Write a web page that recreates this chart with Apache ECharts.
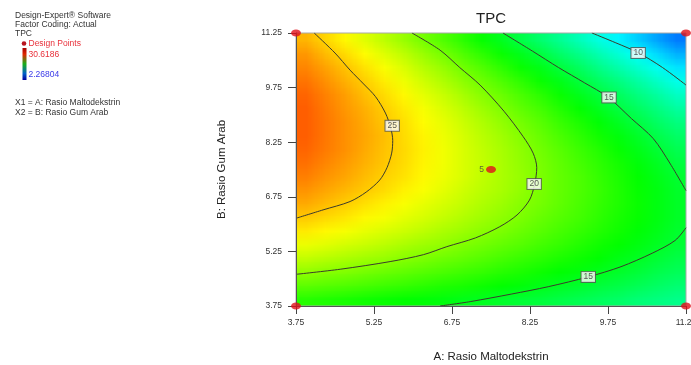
<!DOCTYPE html>
<html>
<head>
<meta charset="utf-8">
<title>TPC</title>
<script src="https://cdn.jsdelivr.net/npm/echarts@6/dist/echarts.min.js"></script>
<style>
  html, body { margin: 0; padding: 0; background: #fff; }
  #wrap { position: relative; width: 691px; height: 365px; overflow: hidden; }
  /* colour map is drawn one pixel per cell, then scaled up by the browser (smooth shading) */
  #map { position: absolute; left: 296px; top: 33px; width: 20px; height: 20px;
         transform: scale(19.5, 13.65); transform-origin: 0 0; z-index: 1; }
  #chart { position: absolute; left: 0; top: 0; width: 691px; height: 365px; z-index: 2; }
</style>
</head>
<body>
<div id="wrap">
  <div id="map"></div>
  <div id="chart"></div>
</div>
<script>
// A: Rasio Maltodekstrin (x)  B: Rasio Gum Arab (y)
const axisTicks = [3.75, 5.25, 6.75, 8.25, 9.75, 11.25];
// centres of the colour cells
const aCells = [3.94, 4.31, 4.69, 5.06, 5.44, 5.81, 6.19, 6.56, 6.94, 7.31, 7.69, 8.06, 8.44, 8.81, 9.19, 9.56, 9.94, 10.31, 10.69, 11.06];
const bCells = [3.94, 4.31, 4.69, 5.06, 5.44, 5.81, 6.19, 6.56, 6.94, 7.31, 7.69, 8.06, 8.44, 8.81, 9.19, 9.56, 9.94, 10.31, 10.69, 11.06];
// TPC, one array per A column, B from bottom to top
const tpcCols = [
  [17.5, 19.0, 20.5, 21.8, 23.0, 24.1, 25.0, 25.9, 26.5, 27.1, 27.5, 27.8, 28.0, 28.0, 28.0, 27.8, 27.4, 26.9, 26.4, 25.6],
  [17.3, 18.8, 20.2, 21.5, 22.7, 23.7, 24.6, 25.4, 26.0, 26.5, 26.9, 27.2, 27.3, 27.3, 27.2, 27.0, 26.6, 26.1, 25.4, 24.7],
  [17.1, 18.6, 20.0, 21.2, 22.3, 23.3, 24.2, 24.9, 25.5, 26.0, 26.3, 26.6, 26.6, 26.6, 26.4, 26.2, 25.7, 25.2, 24.5, 23.7],
  [16.9, 18.4, 19.7, 20.9, 22.0, 22.9, 23.7, 24.4, 25.0, 25.4, 25.7, 25.9, 26.0, 25.9, 25.7, 25.3, 24.9, 24.3, 23.6, 22.7],
  [16.7, 18.1, 19.4, 20.6, 21.6, 22.5, 23.3, 23.9, 24.5, 24.8, 25.1, 25.2, 25.3, 25.1, 24.9, 24.5, 24.0, 23.4, 22.6, 21.7],
  [16.5, 17.9, 19.1, 20.2, 21.2, 22.1, 22.8, 23.4, 23.9, 24.3, 24.5, 24.6, 24.5, 24.4, 24.1, 23.7, 23.1, 22.5, 21.7, 20.7],
  [16.3, 17.6, 18.8, 19.9, 20.8, 21.7, 22.4, 22.9, 23.4, 23.7, 23.8, 23.9, 23.8, 23.6, 23.3, 22.8, 22.2, 21.5, 20.7, 19.7],
  [16.1, 17.3, 18.5, 19.5, 20.5, 21.2, 21.9, 22.4, 22.8, 23.1, 23.2, 23.2, 23.1, 22.9, 22.5, 22.0, 21.3, 20.6, 19.7, 18.7],
  [15.8, 17.1, 18.2, 19.2, 20.0, 20.8, 21.4, 21.9, 22.2, 22.5, 22.5, 22.5, 22.4, 22.1, 21.7, 21.1, 20.4, 19.6, 18.7, 17.7],
  [15.6, 16.8, 17.9, 18.8, 19.6, 20.3, 20.9, 21.3, 21.6, 21.8, 21.9, 21.8, 21.6, 21.3, 20.8, 20.2, 19.5, 18.7, 17.7, 16.6],
  [15.3, 16.5, 17.5, 18.4, 19.2, 19.9, 20.4, 20.8, 21.1, 21.2, 21.2, 21.1, 20.9, 20.5, 20.0, 19.4, 18.6, 17.7, 16.7, 15.6],
  [15.0, 16.2, 17.2, 18.0, 18.8, 19.4, 19.9, 20.2, 20.5, 20.6, 20.5, 20.4, 20.1, 19.7, 19.1, 18.5, 17.7, 16.7, 15.7, 14.5],
  [14.8, 15.8, 16.8, 17.6, 18.3, 18.9, 19.3, 19.7, 19.8, 19.9, 19.8, 19.6, 19.3, 18.9, 18.3, 17.6, 16.7, 15.8, 14.7, 13.4],
  [14.5, 15.5, 16.4, 17.2, 17.9, 18.4, 18.8, 19.1, 19.2, 19.2, 19.1, 18.9, 18.5, 18.0, 17.4, 16.7, 15.8, 14.8, 13.6, 12.4],
  [14.2, 15.2, 16.1, 16.8, 17.4, 17.9, 18.3, 18.5, 18.6, 18.6, 18.4, 18.1, 17.7, 17.2, 16.5, 15.7, 14.8, 13.8, 12.6, 11.3],
  [13.9, 14.8, 15.7, 16.4, 16.9, 17.4, 17.7, 17.9, 18.0, 17.9, 17.7, 17.4, 16.9, 16.3, 15.6, 14.8, 13.8, 12.7, 11.5, 10.2],
  [13.6, 14.5, 15.3, 15.9, 16.5, 16.9, 17.1, 17.3, 17.3, 17.2, 17.0, 16.6, 16.1, 15.5, 14.7, 13.9, 12.9, 11.7, 10.5, 9.1],
  [13.2, 14.1, 14.9, 15.5, 16.0, 16.3, 16.6, 16.7, 16.6, 16.5, 16.2, 15.8, 15.3, 14.6, 13.8, 12.9, 11.9, 10.7, 9.4, 8.0],
  [12.9, 13.7, 14.4, 15.0, 15.5, 15.8, 16.0, 16.0, 16.0, 15.8, 15.5, 15.0, 14.4, 13.7, 12.9, 12.0, 10.9, 9.7, 8.3, 6.8],
  [12.6, 13.3, 14.0, 14.5, 15.0, 15.2, 15.4, 15.4, 15.3, 15.1, 14.7, 14.2, 13.6, 12.9, 12.0, 11.0, 9.9, 8.6, 7.2, 5.7]
];
const tpcMin = 2.26804;
const tpcMax = 30.6186;

// contour lines [A, B]
const contour25 = [[4.10, 11.25], [4.50, 10.70], [4.79, 10.23], [5.05, 9.85], [5.28, 9.50], [5.47, 9.05], [5.57, 8.65], [5.61, 8.30], [5.59, 7.95], [5.50, 7.55], [5.36, 7.21], [5.10, 6.88], [4.79, 6.62], [4.27, 6.39], [3.75, 6.16]];
const contour20 = [[5.98, 11.25], [6.52, 10.78], [6.90, 10.30], [7.29, 9.82], [7.75, 9.10], [8.12, 8.40], [8.31, 7.95], [8.38, 7.55], [8.34, 7.10], [8.24, 6.66], [8.00, 6.25], [7.67, 5.93], [7.20, 5.62], [6.65, 5.38], [6.20, 5.16], [5.56, 4.97], [4.60, 4.76], [3.75, 4.62]];
const contour15Top = [[7.73, 11.25], [8.30, 10.75], [8.80, 10.30], [9.30, 9.88], [9.75, 9.49], [10.20, 8.90], [10.62, 8.35], [10.95, 7.65], [11.25, 6.92]];
const contour15Bottom = [[6.52, 3.75], [7.10, 3.87], [7.90, 4.08], [8.60, 4.28], [9.37, 4.55], [10.00, 4.83], [10.60, 5.20], [11.04, 5.55], [11.25, 5.90]];
const contour10 = [[9.44, 11.25], [9.90, 10.98], [10.33, 10.71], [10.80, 10.30], [11.25, 9.82]];
const contourLabels = [[5.60, 8.70, '25'], [8.33, 7.10, '20'], [9.77, 9.48, '15'], [10.33, 10.70, '10'], [9.37, 4.55, '15']];

const designPoints = [[3.75, 3.75], [3.75, 11.25], [11.25, 3.75], [11.25, 11.25], [7.5, 7.5]];
const centerRuns = '5';

const FONT = '"Liberation Sans", Arial, sans-serif';

let heatData = [];
for (let i = 0; i < tpcCols.length; i++) {
  for (let j = 0; j < tpcCols[i].length; j++) {
    heatData.push([i, j, tpcCols[i][j]]);
  }
}

// colour map
var mapChart = echarts.init(document.getElementById('map'));
mapChart.setOption({
  animation: false,
  grid: { left: 0, right: 0, top: 0, bottom: 0, outerBoundsMode: 'none' },
  xAxis: { type: 'category', data: aCells, show: false },
  yAxis: { type: 'category', data: bCells, show: false },
  visualMap: {
    show: false,
    type: 'continuous',
    dimension: 2,
    min: tpcMin,
    max: tpcMax,
    inRange: { color: ['#0000ff', '#00ffff', '#00ff00', '#ffff00', '#ff0000'] }
  },
  series: [{
    type: 'custom',
    data: heatData,
    encode: { x: 0, y: 1 },
    silent: true,
    renderItem: function (params, api) {
      var c = api.coord([api.value(0), api.value(1)]);
      var s = api.size([1, 1]);
      return {
        type: 'rect',
        shape: { x: c[0] - s[0] / 2, y: c[1] - s[1] / 2, width: s[0], height: s[1] },
        style: { fill: api.visual('color') }
      };
    }
  }]
});

function contourSeries(data) {
  return {
    type: 'line',
    data: data,
    showSymbol: false,
    smooth: 0.3,
    silent: true,
    z: 4,
    lineStyle: { color: '#3b3b2c', width: 1 }
  };
}

function panelText(text, x, y, color) {
  return {
    type: 'text',
    style: { text: text, x: x, y: y, fill: color || '#333', font: '8.5px ' + FONT, textVerticalAlign: 'top' }
  };
}

var myChart = echarts.init(document.getElementById('chart'));
myChart.setOption({
  animation: false,
  backgroundColor: 'transparent',
  grid: {
    left: 296, top: 33, width: 390, height: 273, outerBoundsMode: 'none',
    show: true, borderColor: '#a8a8a8', borderWidth: 1, backgroundColor: 'transparent'
  },
  xAxis: {
    type: 'value', min: axisTicks[0], max: axisTicks[axisTicks.length - 1], interval: 1.5, z: 5,
    name: 'A: Rasio Maltodekstrin', nameLocation: 'middle', nameGap: 45,
    nameTextStyle: { fontFamily: FONT, fontSize: 11.5, color: '#222' },
    axisLine: { lineStyle: { color: '#555', width: 1 } },
    axisTick: { length: 8, lineStyle: { color: '#444' } },
    axisLabel: { fontFamily: FONT, fontSize: 8.5, color: '#333', margin: 12 },
    splitLine: { show: false }
  },
  yAxis: {
    type: 'value', min: axisTicks[0], max: axisTicks[axisTicks.length - 1], interval: 1.5, z: 5,
    name: 'B: Rasio Gum Arab', nameLocation: 'middle', nameGap: 68,
    nameTextStyle: { fontFamily: FONT, fontSize: 11.5, color: '#222' },
    axisLine: { lineStyle: { color: '#555', width: 1 } },
    axisTick: { length: 8, lineStyle: { color: '#444' } },
    axisLabel: { fontFamily: FONT, fontSize: 8.5, color: '#333', margin: 14 },
    splitLine: { show: false }
  },
  graphic: [
    {
      type: 'text',
      style: { text: 'TPC', x: 491, y: 19, fill: '#222', font: '15px ' + FONT, textAlign: 'center', textVerticalAlign: 'middle' }
    },
    panelText('Design-Expert\u00ae Software', 15, 11),
    panelText('Factor Coding: Actual', 15, 20.5),
    panelText('TPC', 15, 29.5),
    { type: 'circle', shape: { cx: 24, cy: 43.5, r: 2.3 }, style: { fill: '#b8141e' } },
    panelText('Design Points', 28.5, 39.5, '#e8303a'),
    {
      type: 'rect', shape: { x: 22.5, y: 48, width: 4, height: 32 },
      style: {
        fill: new echarts.graphic.LinearGradient(0, 0, 0, 1, [
          { offset: 0, color: '#a80000' },
          { offset: 0.2, color: '#e02800' },
          { offset: 0.5, color: '#18b018' },
          { offset: 0.8, color: '#0060c8' },
          { offset: 1, color: '#0000a0' }
        ])
      }
    },
    panelText('30.6186', 28.5, 50, '#e8303a'),
    panelText('2.26804', 28.5, 70, '#3a3ae8'),
    panelText('X1 = A: Rasio Maltodekstrin', 15, 98.5),
    panelText('X2 = B: Rasio Gum Arab', 15, 108)
  ],
  series: [
    contourSeries(contour25),
    contourSeries(contour20),
    contourSeries(contour15Top),
    contourSeries(contour15Bottom),
    contourSeries(contour10),
    {
      type: 'scatter',
      data: contourLabels,
      symbolSize: 1,
      silent: true,
      z: 6,
      itemStyle: { color: 'transparent' },
      label: {
        show: true,
        position: 'inside',
        formatter: function (p) { return p.value[2]; },
        fontFamily: FONT,
        fontSize: 8.5,
        color: '#333',
        backgroundColor: '#fff',
        borderColor: '#555',
        borderWidth: 1,
        padding: [1, 2, 0, 2]
      }
    },
    {
      type: 'scatter',
      data: designPoints,
      symbol: 'circle',
      symbolSize: [10, 7],
      clip: false,
      silent: true,
      z: 7,
      itemStyle: { color: '#e0101a' },
      label: {
        show: true,
        position: 'left',
        distance: 2,
        fontFamily: FONT,
        fontSize: 8.5,
        color: '#444',
        formatter: function (p) { return p.dataIndex === designPoints.length - 1 ? centerRuns : ''; }
      }
    }
  ]
});
window.addEventListener('resize', function () {
  mapChart.resize();
  myChart.resize();
});
</script>
</body>
</html>
